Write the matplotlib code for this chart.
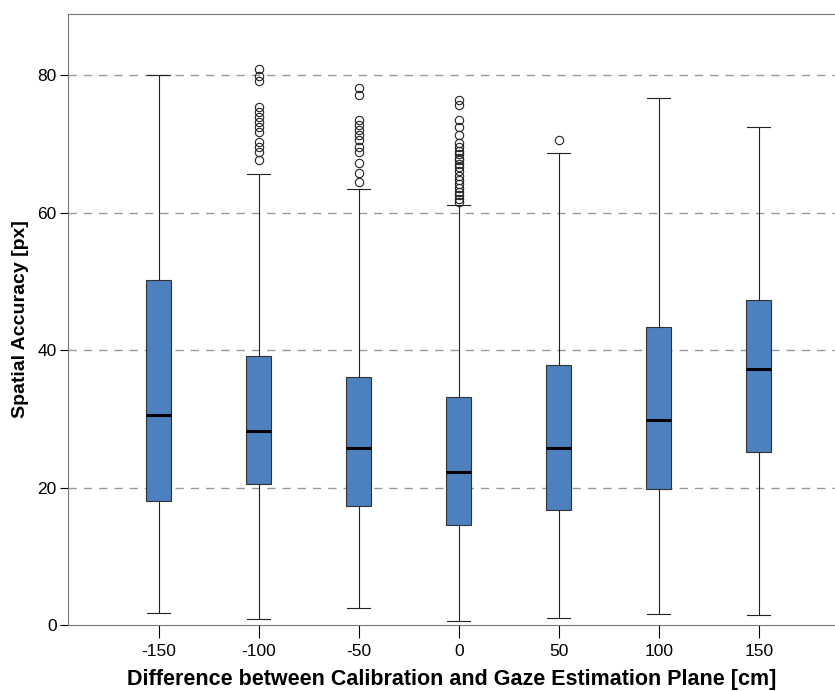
import matplotlib.pyplot as plt

plt.rcParams['font.family'] = ['Liberation Sans', 'DejaVu Sans']

# Box summaries per plane offset (in px)
offsets = ['-150', '-100', '-50', '0', '50', '100', '150']
whis_lo = [1.7, 0.9, 2.5, 0.6, 1.0, 1.6, 1.5]
q1 = [18.0, 20.5, 17.3, 14.5, 16.7, 19.8, 25.2]
medians = [30.6, 28.2, 25.8, 22.2, 25.7, 29.9, 37.2]
q3 = [50.2, 39.1, 36.1, 33.2, 37.8, 43.3, 47.3]
whis_hi = [80.0, 65.6, 63.4, 61.1, 68.7, 76.7, 72.4]
outliers = [
    [],
    [80.9, 79.9, 79.1, 75.3, 74.6, 73.9, 73.2, 72.4, 71.7, 70.3, 69.5, 68.8, 67.6],
    [78.1, 77.1, 73.5, 72.7, 72.0, 71.3, 70.5, 69.5, 68.8, 67.2, 65.7, 64.4],
    [76.4, 75.6, 73.5, 72.5, 71.3, 70.2, 69.5, 69.0, 68.5, 68.0, 67.6, 67.1,
     66.6, 66.0, 65.4, 64.8, 64.2, 63.6, 63.0, 62.5, 62.0, 61.6],
    [70.5],
    [],
    [],
]

stats = []
for i in range(len(offsets)):
    stats.append({'whislo': whis_lo[i], 'q1': q1[i], 'med': medians[i],
                  'q3': q3[i], 'whishi': whis_hi[i], 'fliers': outliers[i]})

fig = plt.figure(figsize=(8.35, 6.91), dpi=100)
ax = fig.add_axes([0.0814, 0.0955, 0.9186, 0.8842])

pos = list(range(len(offsets)))
ax.bxp(stats, positions=pos, widths=0.25, patch_artist=True,
       boxprops=dict(facecolor='#4d80bf', edgecolor='#333333', linewidth=0.8),
       medianprops=dict(color='black', linewidth=2.2),
       whiskerprops=dict(color='#222222', linewidth=0.8),
       capprops=dict(color='#222222', linewidth=0.8),
       capwidths=0.23,
       flierprops=dict(marker='o', markerfacecolor='none', markeredgecolor='#222222',
                       markersize=6, markeredgewidth=0.8),
       zorder=3)

ax.set_xlim(-0.91, 6.76)
ax.set_ylim(0, 88.9)
ax.set_yticks([0, 20, 40, 60, 80])
ax.set_xticks(pos)
ax.set_xticklabels(offsets)

for y in [20, 40, 60, 80]:
    ax.axhline(y, color='#999999', linestyle=(0, (6, 5)), linewidth=1, zorder=1)

ax.spines['right'].set_visible(False)
for s in ['left', 'top', 'bottom']:
    ax.spines[s].set_color('#777777')
ax.tick_params(axis='y', length=6, color='black', labelsize=12.5, pad=2)
ax.tick_params(axis='x', length=9, color='black', labelsize=12.5, pad=5)

ax.set_ylabel('Spatial Accuracy [px]', fontsize=14, fontweight='bold', labelpad=6)
ax.set_xlabel('Difference between Calibration and Gaze Estimation Plane [cm]',
              fontsize=15.5, fontweight='bold', labelpad=7)

fig.savefig('out.png', dpi=100)
